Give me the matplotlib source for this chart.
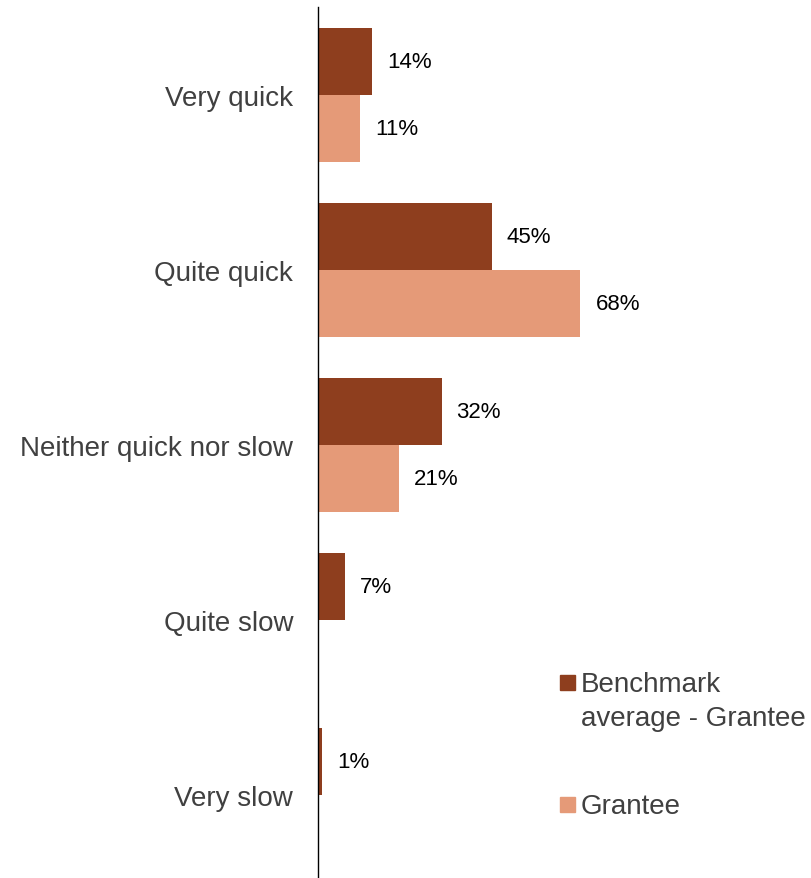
import matplotlib
matplotlib.use("Agg")
import matplotlib.pyplot as plt
from matplotlib.patches import Rectangle
import numpy as np

plt.rcParams['font.family'] = ['Liberation Sans', 'DejaVu Sans']

categories = ["Very quick", "Quite quick", "Neither quick nor slow", "Quite slow", "Very slow"]
series_names = ["Benchmark\naverage - Grantee", "Grantee"]
benchmark = [14, 45, 32, 7, 1]
grantee = [11, 68, 21, None, None]
colors = ["#8E3E1E", "#E59A78"]

W, H = 812, 879
fig = plt.figure(figsize=(W / 100, H / 100), dpi=100)
x0 = 318 / W
top = 8 / H
ax = fig.add_axes([x0, 0, 1 - x0, 1 - top])

y = np.arange(len(categories))
bh = 0.383
ax.barh(y - bh / 2, benchmark, height=bh, color=colors[0])
gv = [v if v is not None else 0 for v in grantee]
ax.barh(y + bh / 2, gv, height=bh, color=colors[1])

ppx = (W - 318) / 128.0  # px per unit
off = 15 / ppx
for i, v in enumerate(benchmark):
    ax.text(v + off, y[i] - bh / 2, f"{v}%", va="center", ha="left", fontsize=16, color="black")
for i, v in enumerate(grantee):
    if v is not None:
        ax.text(v + off, y[i] + bh / 2, f"{v}%", va="center", ha="left", fontsize=16, color="black")

ax.set_xlim(0, 128)
ax.set_ylim(4.474, -0.503)
ax.set_yticks(y)
ax.set_yticklabels(categories, fontsize=20, color="#404040")
ax.tick_params(axis="y", length=0, pad=18)
ax.set_xticks([])
for s in ["top", "right", "bottom"]:
    ax.spines[s].set_visible(False)
ax.spines["left"].set_color("black")
ax.spines["left"].set_linewidth(1.0)

# legend
sq = 15
for name, col, yc in [(series_names[0], colors[0], 683), (series_names[1], colors[1], 805)]:
    fig.patches.append(Rectangle((560 / W, (H - yc - sq / 2) / H), sq / W, sq / H,
                                 transform=fig.transFigure, color=col))
    fig.text(581 / W, (H - yc + 11) / H, name, fontsize=20, color="#404040",
             ha="left", va="top", linespacing=1.4)

fig.savefig("out.png", dpi=100)
